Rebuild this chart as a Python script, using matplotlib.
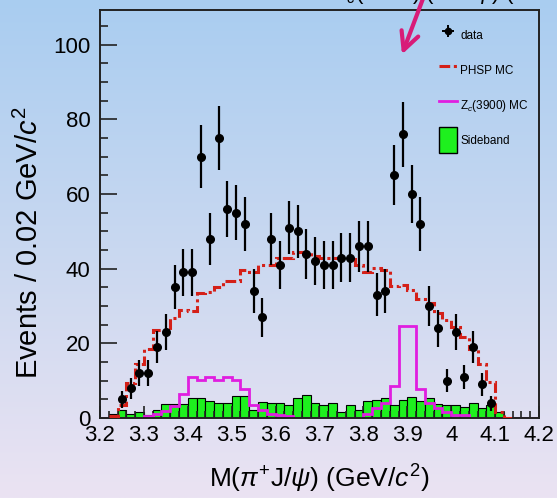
import numpy as np
import matplotlib.pyplot as plt
from matplotlib.lines import Line2D
from matplotlib.patches import Patch
from matplotlib.colors import LinearSegmentedColormap

plt.rcParams['font.family'] = ['Liberation Sans', 'DejaVu Sans']
plt.rcParams['mathtext.fontset'] = 'custom'
plt.rcParams['mathtext.rm'] = 'Liberation Sans'
plt.rcParams['mathtext.it'] = 'Liberation Sans:italic'

# 50 bins of 0.02 GeV/c^2
edges = np.linspace(3.2, 4.2, 51)
centers = 0.5 * (edges[:-1] + edges[1:])

# data points, bins 2..44
data_first_bin = 2
data_counts = [5, 8, 12, 12, 19, 23, 35, 39, 39, 70,
               48, 75, 56, 55, 52, 34, 27, 48, 41, 51,
               50, 44, 42, 41, 41, 43, 43, 46, 46, 33,
               34, 65, 76, 60, 52, 30, 24, 10, 23, 11,
               19, 9, 4]

# phase space MC (red dash-dot)
phsp_mc = [0, 0.5, 3.5, 9.5, 14.5, 18.4, 23.7, 23.7, 26.7, 29,
           28.8, 33.5, 33.7, 35, 36.8, 36.8, 39.6, 39, 41, 41,
           43, 43, 44.5, 44.5, 43.5, 43, 43, 43, 42.6, 41,
           39, 40.3, 39.6, 35.3, 35.6, 34.4, 32, 30.7, 28, 26.2,
           24.4, 21.7, 18.6, 14.6, 9.7, 1.7, 0, 0, 0, 0]

# Zc(3900) MC (magenta)
zc_mc = [0, 0, 0, 0, 0, 0.5, 1.2, 2, 3.2, 6.4,
         11, 10.2, 11, 10.2, 11, 10.2, 7.7, 3.5, 2.2, 1.2,
         0.8, 0.5, 0, 0, 0, 0, 0, 0, 0, 0,
         1.2, 2.6, 3.9, 8.6, 24.7, 24.7, 7.7, 3.9, 2.6, 1.5,
         0.8, 0.8, 0, 0, 0, 0, 0, 0, 0, 0]

# sideband (green)
sideband = [0, 1.2, 2.1, 1.2, 1.6, 0.8, 2.1, 3.7, 3.7, 3.7,
            5.4, 5.4, 4.5, 4.1, 4.1, 5.9, 5.9, 2.1, 4.3, 3.9,
            3.9, 3.5, 5.4, 6.3, 3.9, 3.5, 3.9, 1.6, 3.5, 2.1,
            4.5, 4.9, 5.4, 3.5, 4.9, 5.7, 4.5, 5.4, 3.7, 3.5,
            3.5, 3.0, 3.9, 2.6, 3.5, 1.6, 0, 0, 0, 0]

xtick_vals = [3.2, 3.3, 3.4, 3.5, 3.6, 3.7, 3.8, 3.9, 4.0, 4.1, 4.2]
xtick_labels = ['3.2', '3.3', '3.4', '3.5', '3.6', '3.7', '3.8', '3.9', '4', '4.1', '4.2']
ytick_vals = [0, 20, 40, 60, 80, 100]

fig = plt.figure(figsize=(5.57, 4.98), dpi=100)

# background gradient (slide look)
bg = fig.add_axes([0, 0, 1, 1], zorder=-10)
grad = np.linspace(0, 1, 256).reshape(-1, 1)
cmap = LinearSegmentedColormap.from_list('bg', ['#a9cdf1', '#c9d8f0', '#ebe3f3'])
bg.imshow(grad, aspect='auto', cmap=cmap, extent=[0, 1, 0, 1])
bg.axis('off')

ax = fig.add_axes([0.1795, 0.1606, 0.7882, 0.8193])
ax.set_facecolor('none')

ax.bar(centers, sideband, width=0.02, color='#1ef01e', edgecolor='black',
       linewidth=0.8, zorder=1)
ax.stairs(zc_mc, edges, color='#e01ee0', linewidth=2, baseline=None, zorder=2)
ax.stairs(phsp_mc[1:47], edges[1:48], color='#d42018', linewidth=2.2,
          linestyle=(0, (3.5, 1.2, 1, 1.2)), baseline=None, zorder=3)

xd = centers[data_first_bin:data_first_bin + len(data_counts)]
yd = np.array(data_counts, dtype=float)
ax.errorbar(xd, yd, yerr=np.sqrt(yd), fmt='o', color='black', ms=5.5,
            elinewidth=1.6, capsize=0, zorder=4)

ax.set_xlim(3.2, 4.2)
ax.set_ylim(0, 109.3)
ax.set_xticks(xtick_vals)
ax.set_xticklabels(xtick_labels)
ax.set_xticks(np.arange(3.2, 4.2001, 0.02), minor=True)
ax.set_yticks(ytick_vals)
ax.set_yticks(np.arange(0, 106, 5), minor=True)
ax.tick_params(which='both', direction='in', color='#222222', width=1.2,
               top=False, right=False, labelsize=16)
ax.tick_params(axis='y', which='major', length=12, pad=7)
ax.tick_params(axis='y', which='minor', length=6)
ax.tick_params(axis='x', which='major', length=9, pad=5)
ax.tick_params(axis='x', which='minor', length=5)
for s in ax.spines.values():
    s.set_linewidth(1.4)
    s.set_color('#222222')

ax.set_xlabel(r'M($\pi^{+}$J/$\psi$) (GeV/$c^{2}$)', fontsize=19, labelpad=12)
ax.set_ylabel(r'Events / 0.02 GeV/$c^{2}$', fontsize=21)
ax.yaxis.set_label_coords(-0.128, 0.43)

# legend
data_h = ax.errorbar([np.nan], [np.nan], xerr=[1], yerr=[1], fmt='o',
                     color='black', ms=4.5, elinewidth=1.4, capsize=0)
handles = [
    data_h,
    Line2D([], [], color='#d42018', lw=2.2, linestyle=(0, (3.5, 1.2, 1, 1.2))),
    Line2D([], [], color='#e01ee0', lw=2),
    Patch(facecolor='#1ef01e', edgecolor='black', linewidth=1),
]
labels = ['data', 'PHSP MC', r'Z$_c$(3900) MC', 'Sideband']
ax.legend(handles, labels, loc='upper left', frameon=False, fontsize=8.5,
          bbox_to_anchor=(433 / 557, 1 - 17 / 498),
          bbox_transform=fig.transFigure, borderpad=0,
          handlelength=1.5, handleheight=3.0, handletextpad=0.3,
          labelspacing=0.75)

# magenta arrow pointing at the peak
ax.annotate('', xy=(401, 498 - 57), xycoords='figure pixels',
            xytext=(424, 502), textcoords='figure pixels',
            arrowprops=dict(arrowstyle='->', color='#d81b78', lw=3,
                            mutation_scale=32))

# title text clipped by the top edge, only its lowest part shows
fig.text(0.76, 0.999, r'Z$_c$(3900) ($\pi^{\pm}$J/$\psi$) (', ha='center',
         va='baseline', fontsize=16)

fig.savefig('out.png', dpi=100)
